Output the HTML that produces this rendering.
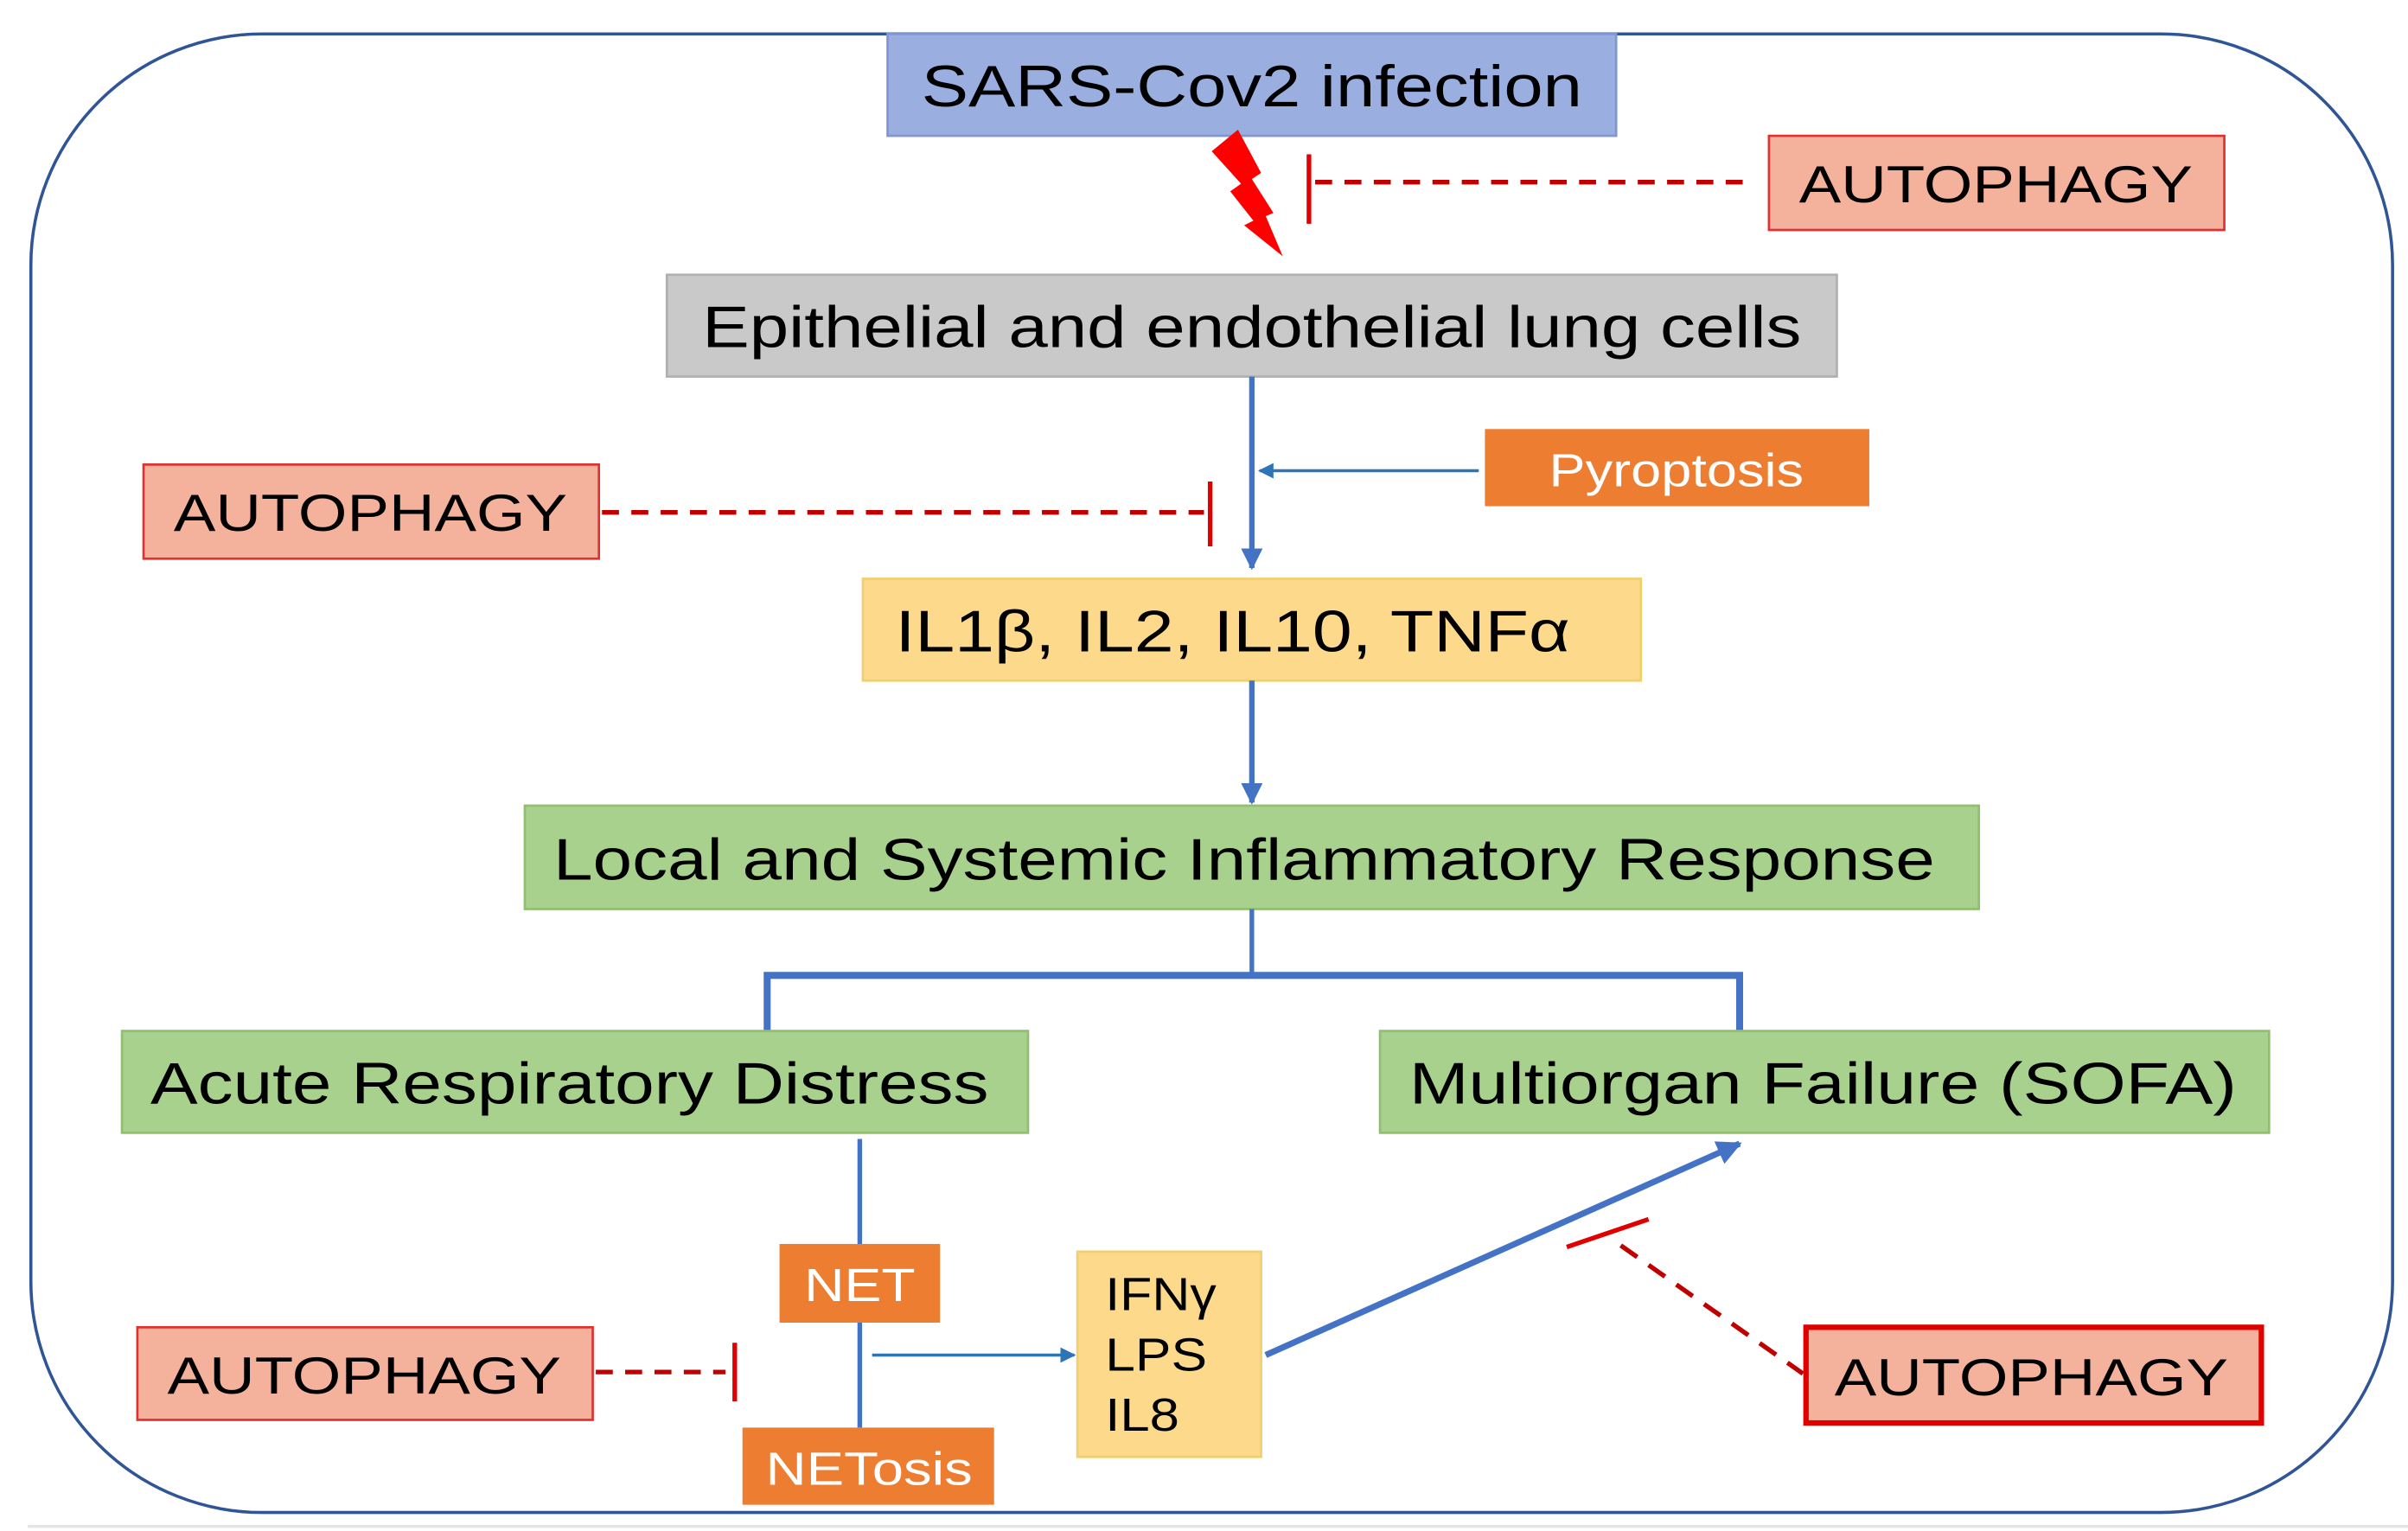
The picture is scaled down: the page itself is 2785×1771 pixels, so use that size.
<!DOCTYPE html>
<html><head><meta charset="utf-8"><style>
html,body{margin:0;padding:0;background:#fff;}
svg{display:block;}
text{font-family:"Liberation Sans",Arial,sans-serif;}
</style></head><body>
<svg width="2785" height="1771" viewBox="0 0 1560 992" preserveAspectRatio="none" xmlns="http://www.w3.org/2000/svg">
<defs>
<marker id="ab" viewBox="0 0 10 10" refX="9" refY="5" markerWidth="4" markerHeight="4" orient="auto"><path d="M0,0 L10,5 L0,10 z" fill="#4472c4"/></marker>
<marker id="ab2" viewBox="0 0 10 10" refX="9" refY="5" markerWidth="5" markerHeight="5" orient="auto"><path d="M0,0 L10,5 L0,10 z" fill="#2e75b6"/></marker>
</defs>
<rect x="0" y="0" width="1560" height="992" fill="#fff"/>
<line x1="18" y1="989" x2="1560" y2="989" stroke="#e4e4e4" stroke-width="2"/>
<rect x="20" y="22" width="1530" height="958" rx="150" ry="150" fill="none" stroke="#2f5597" stroke-width="2"/>

<!-- SARS -->
<rect x="575" y="22" width="472" height="66" fill="#9aaee0" stroke="#7f96d4" stroke-width="1.5"/>
<text x="811" y="69" font-size="38" text-anchor="middle" textLength="428" lengthAdjust="spacingAndGlyphs">SARS-Cov2 infection</text>
<polygon points="802,84 785,98 804,119 797,124 812,143 806,146 831,166 820,140 825,138 811,116 817,112" fill="#ff0000"/>
<line x1="848" y1="100" x2="848" y2="145" stroke="#e00000" stroke-width="3"/>
<line x1="852" y1="118" x2="1135" y2="118" stroke="#c00000" stroke-width="3" stroke-dasharray="11,8"/>
<rect x="1146" y="88" width="295" height="61" fill="#f4b29c" stroke="#e03030" stroke-width="1.5"/>
<text x="1293" y="131" font-size="34" text-anchor="middle" textLength="255" lengthAdjust="spacingAndGlyphs">AUTOPHAGY</text>

<!-- Epithelial -->
<rect x="432" y="178" width="758" height="66" fill="#c9c9c9" stroke="#b0b0b0" stroke-width="1.5"/>
<text x="811" y="225" font-size="38" text-anchor="middle" textLength="712" lengthAdjust="spacingAndGlyphs">Epithelial and endothelial lung cells</text>
<line x1="811" y1="244" x2="811" y2="368" stroke="#4472c4" stroke-width="3.5" marker-end="url(#ab)"/>
<rect x="962" y="278" width="249" height="50" fill="#ed7d31"/>
<text x="1086" y="315" font-size="30" fill="#fff" text-anchor="middle" textLength="165" lengthAdjust="spacingAndGlyphs">Pyroptosis</text>
<line x1="958" y1="305" x2="816" y2="305" stroke="#2e75b6" stroke-width="2" marker-end="url(#ab2)"/>
<rect x="93" y="301" width="295" height="61" fill="#f4b29c" stroke="#e03030" stroke-width="1.5"/>
<text x="240" y="344" font-size="34" text-anchor="middle" textLength="255" lengthAdjust="spacingAndGlyphs">AUTOPHAGY</text>
<line x1="390" y1="332" x2="780" y2="332" stroke="#c00000" stroke-width="3" stroke-dasharray="11,8"/>
<line x1="784" y1="312" x2="784" y2="354" stroke="#e00000" stroke-width="3"/>

<!-- IL -->
<rect x="559" y="375" width="504" height="66" fill="#fdd98c" stroke="#f2cf6e" stroke-width="1.5"/>
<text x="580" y="422" font-size="38" textLength="437" lengthAdjust="spacingAndGlyphs">IL1β, IL2, IL10, TNFα</text>
<line x1="811" y1="441" x2="811" y2="520" stroke="#4472c4" stroke-width="3.5" marker-end="url(#ab)"/>

<!-- Local -->
<rect x="340" y="522" width="942" height="67" fill="#a9d18e" stroke="#8fbf6f" stroke-width="1.5"/>
<text x="806" y="570" font-size="38" text-anchor="middle" textLength="895" lengthAdjust="spacingAndGlyphs">Local and Systemic Inflammatory Response</text>
<line x1="811" y1="589" x2="811" y2="632" stroke="#4472c4" stroke-width="3"/>
<polyline points="497,668 497,632 1127,632 1127,668" fill="none" stroke="#4472c4" stroke-width="4.5"/>

<rect x="79" y="668" width="587" height="66" fill="#a9d18e" stroke="#8fbf6f" stroke-width="1.5"/>
<text x="369" y="715" font-size="38" text-anchor="middle" textLength="543" lengthAdjust="spacingAndGlyphs">Acute Respiratory Distress</text>
<rect x="894" y="668" width="576" height="66" fill="#a9d18e" stroke="#8fbf6f" stroke-width="1.5"/>
<text x="1181" y="715" font-size="38" text-anchor="middle" textLength="536" lengthAdjust="spacingAndGlyphs">Multiorgan Failure (SOFA)</text>

<!-- NET -->
<line x1="557" y1="738" x2="557" y2="925" stroke="#4472c4" stroke-width="3"/>
<rect x="505" y="806" width="104" height="51" fill="#ed7d31"/>
<text x="557" y="843" font-size="30" fill="#fff" text-anchor="middle" textLength="72" lengthAdjust="spacingAndGlyphs">NET</text>
<rect x="481" y="925" width="163" height="50" fill="#ed7d31"/>
<text x="563" y="962" font-size="30" fill="#fff" text-anchor="middle" textLength="134" lengthAdjust="spacingAndGlyphs">NETosis</text>
<line x1="565" y1="878" x2="696" y2="878" stroke="#2e75b6" stroke-width="2" marker-end="url(#ab2)"/>
<rect x="698" y="811" width="119" height="133" fill="#fdd98c" stroke="#f2cf6e" stroke-width="1.5"/>
<text x="716" y="849" font-size="30" textLength="72" lengthAdjust="spacingAndGlyphs">IFNγ</text>
<text x="716" y="888" font-size="30" textLength="66" lengthAdjust="spacingAndGlyphs">LPS</text>
<text x="716" y="927" font-size="30" textLength="48" lengthAdjust="spacingAndGlyphs">IL8</text>
<line x1="820" y1="878" x2="1127" y2="741" stroke="#4472c4" stroke-width="4" marker-end="url(#ab)"/>

<line x1="1015" y1="808" x2="1068" y2="790" stroke="#e00000" stroke-width="3"/>
<line x1="1050" y1="807" x2="1168" y2="890" stroke="#c00000" stroke-width="3" stroke-dasharray="13,9"/>
<rect x="1170" y="860" width="295" height="62" fill="#f4b29c" stroke="#e00000" stroke-width="3.5"/>
<text x="1316" y="904" font-size="34" text-anchor="middle" textLength="255" lengthAdjust="spacingAndGlyphs">AUTOPHAGY</text>

<rect x="89" y="860" width="295" height="60" fill="#f4b29c" stroke="#e03030" stroke-width="1.5"/>
<text x="236" y="903" font-size="34" text-anchor="middle" textLength="255" lengthAdjust="spacingAndGlyphs">AUTOPHAGY</text>
<line x1="386" y1="889" x2="470" y2="889" stroke="#c00000" stroke-width="3" stroke-dasharray="11,8"/>
<line x1="476" y1="870" x2="476" y2="908" stroke="#e00000" stroke-width="3"/>
</svg>
</body></html>
